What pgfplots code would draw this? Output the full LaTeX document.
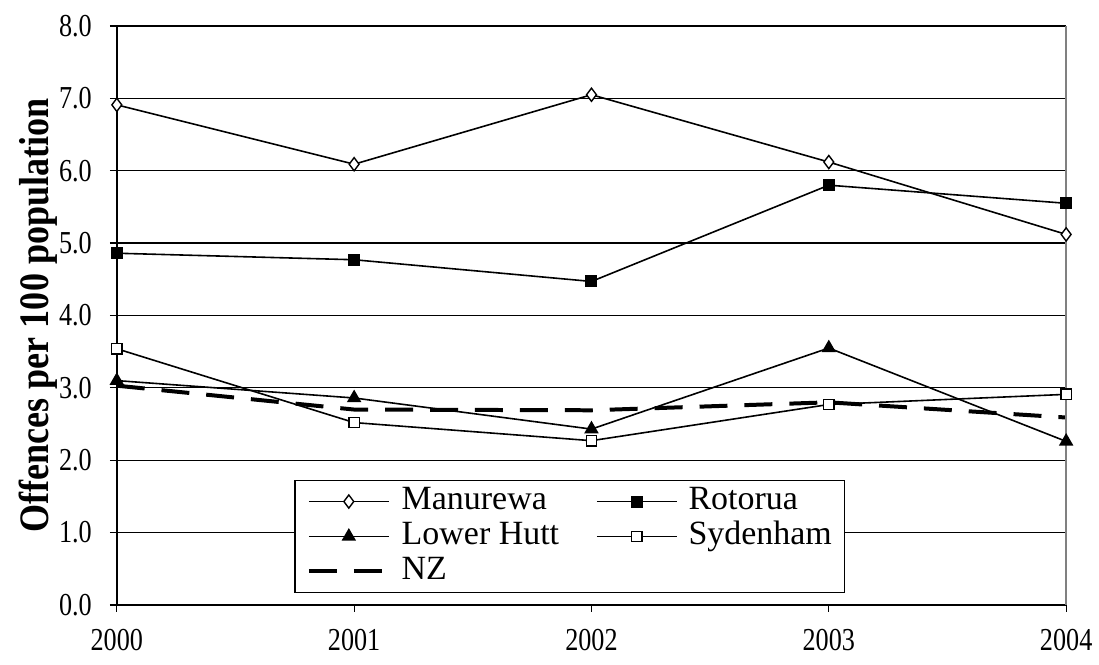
\documentclass[border=0pt]{standalone}
\usepackage{pgfplots}
\pgfplotsset{compat=1.18}
\usepackage{fontspec}
\setmainfont{Liberation Serif}
\newfontfamily\tickfont[FakeStretch=0.82]{Liberation Serif}
\newfontfamily\labfont[FakeStretch=0.86]{Liberation Serif Bold}
\begin{document}
\begin{tikzpicture}
\begin{axis}[
  scale only axis,
  width=475.5pt, height=290pt,
  xmin=2000, xmax=2004, ymin=0, ymax=8,
  xtick={2000,2001,2002,2003,2004},
  ytick={0,1,2,3,4,5,6,7,8},
  axis x line*=bottom, axis y line*=left,
  axis line style={black, line width=0.8pt},
  ymajorgrids, grid style={black, line width=0.6pt},
  tick align=outside, major tick length=3.5pt,
  tick style={black, line width=0.6pt},
  /pgf/number format/assume math mode=true,
  xticklabel style={font=\tickfont\fontsize{16}{18}\selectfont, yshift=-5pt},
  yticklabel style={font=\tickfont\fontsize{16}{18}\selectfont, xshift=-5.5pt},
  x tick label style={/pgf/number format/1000 sep={}},
  y tick label style={/pgf/number format/.cd, fixed, fixed zerofill, precision=1},
  ylabel={\labfont\fontsize{21}{24}\selectfont Offences per 100 population},
  ylabel style={at={(axis description cs:-0.083,0.5)}, anchor=center},
  legend columns=2,
  legend cell align=left,
  legend style={at={(axis description cs:0.187,0.0207)}, anchor=south west,
    draw=black, line width=0.6pt, font=\fontsize{17}{17}\selectfont,
    inner xsep=6pt, inner ysep=2.5pt,
    row sep=1.5pt,
    /tikz/every odd column/.append style={column sep=5pt},
    /tikz/every even column/.append style={column sep=18pt},
    nodes={inner sep=0.5pt, text height=11.5pt, text depth=3.5pt}},
  legend image code/.code={\draw[mark repeat=2, mark phase=2, #1] plot coordinates {(0pt,0pt) (20pt,0pt) (40pt,0pt)};},
  clip=false,
]
\addplot[black, line width=0.8pt, mark=diamond*, mark options={fill=white, line width=0.7pt}, mark size=3.3pt]
  coordinates {(2000,6.91) (2001,6.09) (2002,7.05) (2003,6.12) (2004,5.12)};
\addlegendentry{Manurewa}
\addplot[black, line width=0.8pt, mark=square*, mark options={fill=black}, mark size=2.6pt]
  coordinates {(2000,4.86) (2001,4.77) (2002,4.47) (2003,5.80) (2004,5.55)};
\addlegendentry{Rotorua}
\addplot[black, line width=0.8pt, mark=triangle*, mark options={fill=black}, mark size=3.4pt]
  coordinates {(2000,3.10) (2001,2.86) (2002,2.43) (2003,3.55) (2004,2.26)};
\addlegendentry{Lower Hutt}
\addplot[black, line width=0.8pt, mark=square*, mark options={fill=white, line width=0.7pt}, mark size=2.6pt]
  coordinates {(2000,3.54) (2001,2.52) (2002,2.27) (2003,2.77) (2004,2.91)};
\addlegendentry{Sydenham}
\addplot[black, line width=2pt, dash pattern=on 14pt off 8.5pt]
  coordinates {(2000,3.03) (2001,2.70) (2002,2.69) (2003,2.80) (2004,2.59)};
\addlegendentry{NZ}
\draw[gray, line width=0.9pt] (rel axis cs:1,0) -- (rel axis cs:1,1);
\end{axis}
\path (-58.5pt,-30pt) rectangle (491pt,303pt);
\end{tikzpicture}
\end{document}
